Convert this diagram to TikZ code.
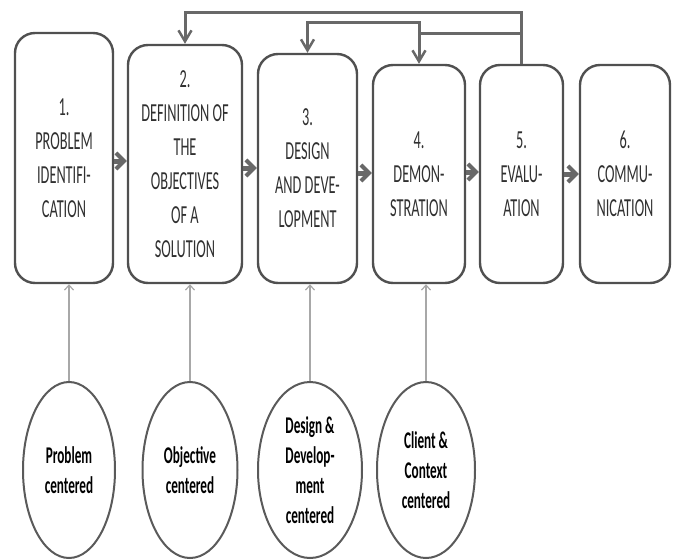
\documentclass[tikz,border=0pt]{standalone}
\usepackage{fontspec}
\newfontfamily\boxfont{Carlito}[FakeStretch=0.55]
\usetikzlibrary{arrows.meta,shapes.geometric}
\definecolor{boxline}{HTML}{505050}
\definecolor{boxtext}{HTML}{303030}
\definecolor{fbline}{HTML}{686868}
\definecolor{ellline}{HTML}{5A5A5A}
\definecolor{thinline}{HTML}{A8A8A8}
\tikzset{
  stepbox/.style={draw=boxline, line width=2.4pt, rounded corners=20pt, inner sep=0pt,
    align=center, text=boxtext, font={\boxfont\fontsize{26}{34}\selectfont}},
  centerell/.style={ellipse, draw=ellline, line width=2pt, inner sep=0pt, minimum height=176pt,
    align=center, text=black, font={\boxfont\bfseries\fontsize{24}{30}\selectfont}},
  fb/.style={draw=fbline, line width=3pt},
  fbtip/.style={-{Straight Barb[length=11pt,width=13pt,line width=2.5pt]}},
  harrow/.style={draw=fbline, line width=5pt, -{Straight Barb[length=8pt,width=16pt,line width=4pt]}},
  thinarrow/.style={draw=thinline, line width=1.4pt, -{Straight Barb[length=5pt,width=9pt,line width=1.2pt]}}
}
\begin{document}
\begin{tikzpicture}[x=1pt,y=-1pt]
\useasboundingbox (0,0) rectangle (678,560);
% process boxes
\node[stepbox, minimum width=98pt, minimum height=250pt] (b1) at (64,158) {1.\\PROBLEM\\IDENTIFI-\\CATION};
\node[stepbox, minimum width=114pt, minimum height=238pt] (b2) at (185,164) {2.\\DEFINITION OF\\THE\\OBJECTIVES\\OF A\\SOLUTION};
\node[stepbox, minimum width=99pt, minimum height=229pt] (b3) at (307.5,168.5) {3.\\DESIGN\\AND DEVE-\\LOPMENT};
\node[stepbox, minimum width=92pt, minimum height=218pt] (b4) at (419,174) {4.\\DEMON-\\STRATION};
\node[stepbox, minimum width=83pt, minimum height=218pt] (b5) at (521.5,174) {5.\\EVALU-\\ATION};
\node[stepbox, minimum width=90pt, minimum height=218pt] (b6) at (625,174) {6.\\COMMU-\\NICATION};
% entry ellipses
\node[centerell, minimum width=92pt] (e1) at (69,470) {Problem\\centered};
\node[centerell, minimum width=95pt] (e2) at (190,470) {Objective\\centered};
\node[centerell, minimum width=104pt] (e3) at (310,470) {Design \&\\Develop-\\ment\\centered};
\node[centerell, minimum width=98pt] (e4) at (426,470) {Client \&\\Context\\centered};
% forward arrows
\draw[harrow] (b1.east |- 0,161) -- (b2.west |- 0,161);
\draw[harrow] (b2.east |- 0,168) -- (b3.west |- 0,168);
\draw[harrow] (b3.east |- 0,173) -- (b4.west |- 0,173);
\draw[harrow] (b4.east |- 0,172) -- (b5.west |- 0,172);
\draw[harrow] (b5.east |- 0,174) -- (b6.west |- 0,174);
% feedback lines
\draw[fb, fbtip] (b5.north) |- (b2.north |- 0,12) -- (b2.north);
\draw[fb, fbtip] (b5.north |- 0,33) -| (b4.north);
\draw[fb, fbtip] (b4.north |- 0,33) |- (b3.north |- 0,22) -- (b3.north);
% entry points
\draw[thinarrow] (e1.north) -- (e1.north |- b1.south);
\draw[thinarrow] (e2.north) -- (e2.north |- b2.south);
\draw[thinarrow] (e3.north) -- (e3.north |- b3.south);
\draw[thinarrow] (e4.north) -- (e4.north |- b4.south);
\end{tikzpicture}
\end{document}
